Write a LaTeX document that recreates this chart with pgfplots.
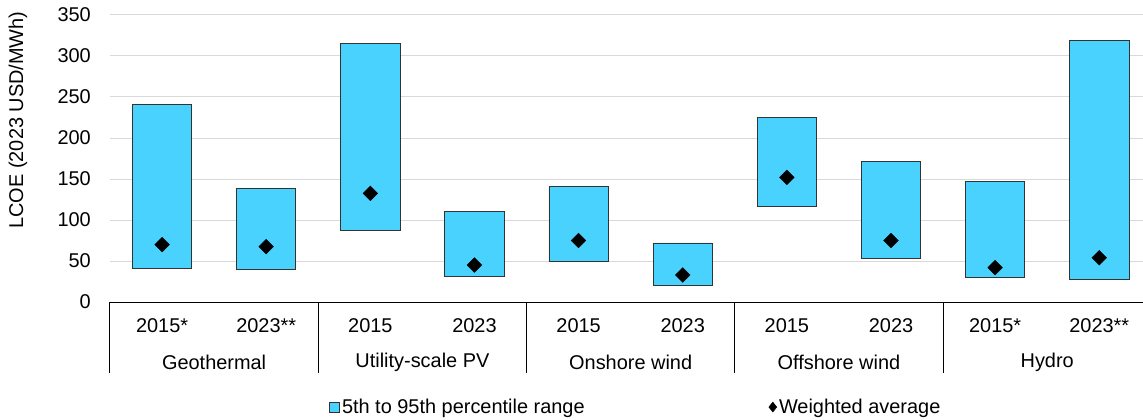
\documentclass[border=0pt]{standalone}
\usepackage{fontspec}
\setmainfont{Liberation Sans}
\usepackage{pgfplots}
\usepackage{pgfplotstable}
\pgfplotsset{compat=1.18}
\definecolor{barcol}{RGB}{74,210,255}
\definecolor{gridcol}{RGB}{217,217,217}
\pgfplotstableread{
x low high avg
0 41 241 70
1 40 139 67.5
2 87 315 132.5
3 31 110 45
4 49 141 75
5 20 72 33
6 117 225 152
7 53 171 75
8 30 147 42
9 27 319 54
}\datatab
\newcommand{\lf}{\fontsize{20}{23}\selectfont}
\begin{document}
\begin{tikzpicture}
\begin{axis}[
 name=ax, scale only axis, width=1033bp, height=287bp,
 xmin=-0.5, xmax=9.42, ymin=0, ymax=350,
 ybar stacked, bar width=0.57,
 ytick={0,50,...,350}, ymajorgrids, grid style={gridcol, line width=1bp},
 xtick={0,...,9},
 xticklabels={2015*,2023**,2015,2023,2015,2023,2015,2023,2015*,2023**},
 axis x line*=bottom, axis y line*=left,
 y axis line style={draw=none}, x axis line style={-, black, line width=1bp},
 tick style={draw=none},
 /pgf/number format/assume math mode=true,
 tick label style={font=\lf, inner sep=0pt},
 yticklabel style={xshift=-19bp},
 xticklabel style={yshift=-16bp},
 clip=false,
 legend style={at={(0.509,-0.366)}, anchor=center, draw=none, fill=none,
   font=\lf, inner sep=0pt, /tikz/every even column/.append style={column sep=182bp}},
 legend columns=2,
]
\addplot[draw=none, fill=none, forget plot] table[x=x, y=low]{\datatab};
\addplot[fill=barcol, draw=black!80, line width=0.8bp,
  legend image code/.code={\draw[fill=barcol,draw=black!80,line width=0.8bp] (0bp,-5bp) rectangle (10bp,5bp);}]
  table[x=x, y expr=\thisrow{high}-\thisrow{low}]{\datatab};
\addlegendentry{5th to 95th percentile range}
\addplot[only marks, stack plots=false, mark=square*, mark size=5.2bp,
  mark options={rotate=45, fill=black, draw=black},
  legend image code/.code={\draw[fill=black] (0bp,-5bp) -- (4bp,0bp) -- (0bp,5bp) -- (-4bp,0bp) -- cycle;}]
  table[x=x, y=avg]{\datatab};
\addlegendentry{Weighted average}
\node[font=\lf] at ([yshift=-60bp]axis cs:0.5,0) {Geothermal};
\node[font=\lf] at ([yshift=-60bp]axis cs:2.5,0) {Utility-scale PV};
\node[font=\lf] at ([yshift=-60bp]axis cs:4.5,0) {Onshore wind};
\node[font=\lf] at ([yshift=-60bp]axis cs:6.5,0) {Offshore wind};
\node[font=\lf] at ([yshift=-60bp]axis cs:8.5,0) {Hydro};
\draw[black, line width=1bp] (axis cs:-0.5,0) -- ([yshift=-71bp]axis cs:-0.5,0);
\draw[black, line width=1bp] (axis cs:1.5,0) -- ([yshift=-71bp]axis cs:1.5,0);
\draw[black, line width=1bp] (axis cs:3.5,0) -- ([yshift=-71bp]axis cs:3.5,0);
\draw[black, line width=1bp] (axis cs:5.5,0) -- ([yshift=-71bp]axis cs:5.5,0);
\draw[black, line width=1bp] (axis cs:7.5,0) -- ([yshift=-71bp]axis cs:7.5,0);
\node[rotate=90, font=\lf] at ([xshift=-92bp]rel axis cs:0,0.634) {LCOE (2023 USD/MWh)};
\end{axis}
\pgfresetboundingbox
\path[use as bounding box] ([xshift=-110bp,yshift=-117bp]ax.south west) rectangle ([yshift=15bp]ax.north east);
\end{tikzpicture}
\end{document}
